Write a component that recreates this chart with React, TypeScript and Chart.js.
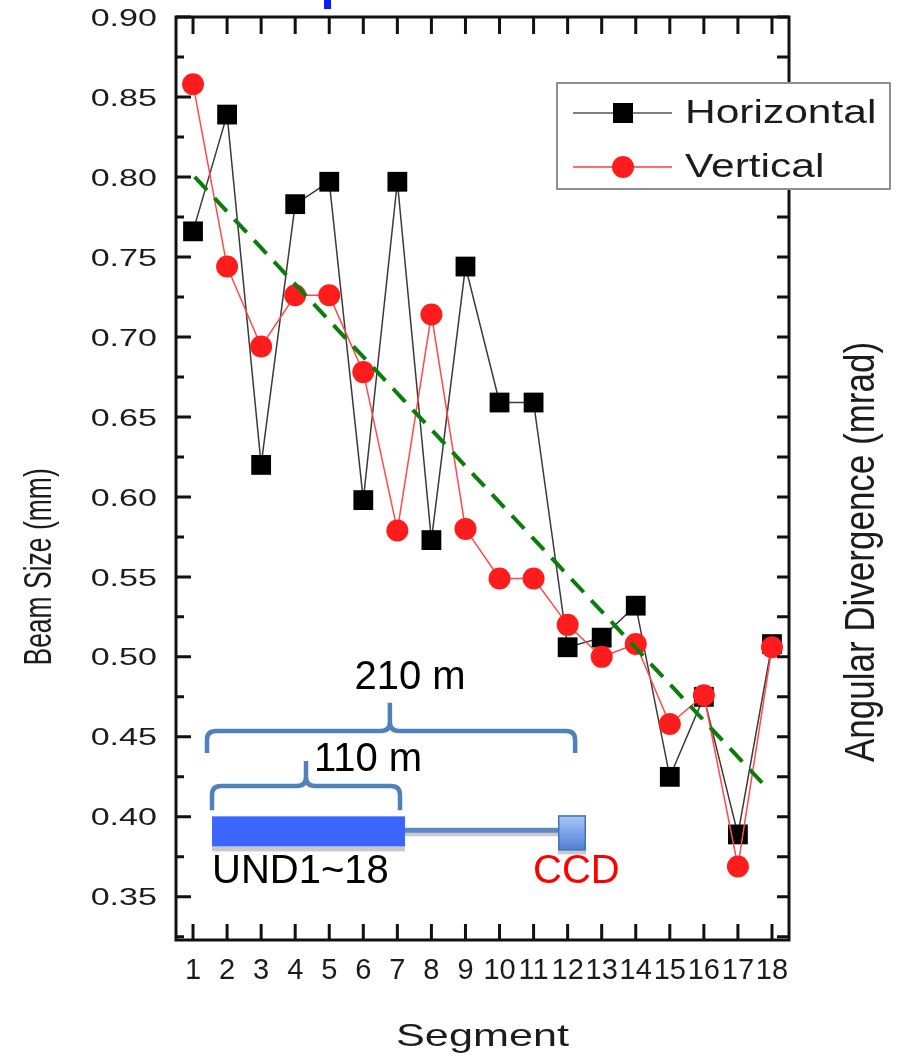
import React, { useEffect, useRef } from "react";
import { Chart, registerables } from "chart.js";

Chart.register(...registerables);

// Segment numbers along the undulator line
const segments = [1, 2, 3, 4, 5, 6, 7, 8, 9, 10, 11, 12, 13, 14, 15, 16, 17, 18];
const xTickLabels = segments.map(String);

// Beam size per segment (mm)
const horizontal = [0.766, 0.839, 0.62, 0.783, 0.797, 0.598, 0.797, 0.573, 0.744, 0.659, 0.659, 0.506, 0.512, 0.532, 0.425, 0.475, 0.389, 0.508];
const vertical = [0.858, 0.744, 0.694, 0.726, 0.726, 0.678, 0.579, 0.714, 0.58, 0.549, 0.549, 0.52, 0.5, 0.508, 0.458, 0.476, 0.369, 0.506];

// Dashed trend guide (segment, mm)
const trendX = [1.05, 17.9];
const trendY = [0.8, 0.417];

// Y axis labels and minor ticks
const yTicks = [0.35, 0.4, 0.45, 0.5, 0.55, 0.6, 0.65, 0.7, 0.75, 0.8, 0.85, 0.9];
const yMinorTicks = [0.325, 0.375, 0.425, 0.475, 0.525, 0.575, 0.625, 0.675, 0.725, 0.775, 0.825, 0.875];

const FONT = '"Liberation Sans", Arial, Helvetica, sans-serif';
const TEXT = "#1c1c1c";

function stretchedText(
  ctx: CanvasRenderingContext2D,
  text: string,
  x: number,
  y: number,
  size: number,
  sx: number,
  sy: number,
  align: CanvasTextAlign,
  color: string,
  rot = 0
) {
  ctx.save();
  ctx.translate(x, y);
  if (rot) ctx.rotate(rot);
  ctx.scale(sx, sy);
  ctx.font = `${size}px ${FONT}`;
  ctx.fillStyle = color;
  ctx.textAlign = align;
  ctx.textBaseline = "middle";
  ctx.fillText(text, 0, 0);
  ctx.restore();
}

function brace(
  ctx: CanvasRenderingContext2D,
  xl: number,
  xr: number,
  xp: number,
  yEnd: number,
  yH: number,
  yPeak: number,
  r: number
) {
  ctx.beginPath();
  ctx.moveTo(xl, yEnd);
  ctx.lineTo(xl, yH + r);
  ctx.quadraticCurveTo(xl, yH, xl + r, yH);
  ctx.lineTo(xp - r, yH);
  ctx.quadraticCurveTo(xp, yH, xp, yH - r);
  ctx.lineTo(xp, yPeak);
  ctx.moveTo(xp, yH - r);
  ctx.quadraticCurveTo(xp, yH, xp + r, yH);
  ctx.lineTo(xr - r, yH);
  ctx.quadraticCurveTo(xr, yH, xr, yH + r);
  ctx.lineTo(xr, yEnd);
  ctx.stroke();
}

// Frame, inward ticks, tick labels, axis titles
const framePlugin = {
  id: "frame",
  afterDatasetsDraw(chart: any) {
    const { ctx, chartArea: ca, scales } = chart;
    const xs = scales.x;
    const ys = scales.y;
    ctx.save();
    ctx.strokeStyle = "#111";
    ctx.lineCap = "butt";

    // ticks
    ctx.lineWidth = 3;
    ctx.beginPath();
    segments.forEach((s) => {
      const px = xs.getPixelForValue(s);
      ctx.moveTo(px, ca.bottom);
      ctx.lineTo(px, ca.bottom - 16);
      ctx.moveTo(px, ca.top);
      ctx.lineTo(px, ca.top + 17);
    });
    yTicks.forEach((v) => {
      const py = ys.getPixelForValue(v);
      ctx.moveTo(ca.left, py);
      ctx.lineTo(ca.left + 15, py);
      ctx.moveTo(ca.right, py);
      ctx.lineTo(ca.right - 12, py);
    });
    yMinorTicks.forEach((v) => {
      if (v < ys.min || v > ys.max) return;
      const py = ys.getPixelForValue(v);
      ctx.moveTo(ca.left, py);
      ctx.lineTo(ca.left + 8, py);
      ctx.moveTo(ca.right, py);
      ctx.lineTo(ca.right - 12, py);
    });
    ctx.stroke();

    // frame
    ctx.lineWidth = 3;
    ctx.strokeRect(ca.left, ca.top, ca.right - ca.left, ca.bottom - ca.top);

    // tick labels
    yTicks.forEach((v) => {
      const py = ys.getPixelForValue(v);
      stretchedText(ctx, v.toFixed(2), ca.left - 19, py + 2, 24, 1.42, 1, "right", TEXT);
    });
    segments.forEach((s, i) => {
      const px = xs.getPixelForValue(s);
      stretchedText(ctx, xTickLabels[i], px, ca.bottom + 31, 29, 1, 1, "center", TEXT);
    });

    // axis titles
    stretchedText(ctx, "Beam Size (mm)", 40, ys.getPixelForValue(0.6) + 70, 26.5, 1, 1.45, "center", TEXT, -Math.PI / 2);
    stretchedText(ctx, "Angular Divergence (mrad)", ca.right + 73, 552, 35, 1, 1.2, "center", TEXT, -Math.PI / 2);
    stretchedText(ctx, "Segment", (ca.left + ca.right) / 2, ca.bottom + 97, 32, 1.35, 1, "center", TEXT);

    // clipped mark above the frame
    ctx.fillStyle = "#0a1cff";
    ctx.fillRect(xs.getPixelForValue(4.95) - 3.5, ca.top - 17, 7, 9);
    ctx.restore();
  },
};

// Beamline sketch: undulator block, drift line, CCD and distance braces
const sketchPlugin = {
  id: "sketch",
  afterDraw(chart: any) {
    const { ctx, scales } = chart;
    const X = (v: number) => scales.x.getPixelForValue(v);
    const Y = (v: number) => scales.y.getPixelForValue(v);
    ctx.save();

    // braces
    ctx.strokeStyle = "#4f81bd";
    ctx.lineWidth = 4.5;
    ctx.lineJoin = "round";
    brace(ctx, X(1.41), X(12.22), X(6.78), Y(0.4399), Y(0.4537), Y(0.4713), 9);
    brace(ctx, X(1.557), X(7.077), X(4.317), Y(0.4041), Y(0.4192), Y(0.4349), 9);

    stretchedText(ctx, "210 m", X(7.371), Y(0.487), 40, 1, 1, "center", "#000");
    stretchedText(ctx, "110 m", X(6.138), Y(0.4355), 40, 1, 1, "center", "#000");

    // drift line with shadow
    const lx0 = X(7.224);
    const lx1 = X(11.717);
    const ly = Y(0.3916);
    ctx.fillStyle = "#c9c9c9";
    ctx.fillRect(lx0, ly + 2, lx1 - lx0, 4);
    ctx.fillStyle = "#5b87c5";
    ctx.fillRect(lx0, ly - 2.5, lx1 - lx0, 5);

    // undulator block with shadow
    const bx0 = X(1.557);
    const bx1 = X(7.224);
    const by0 = Y(0.4003);
    const by1 = Y(0.3815);
    ctx.fillStyle = "#c9c9c9";
    ctx.fillRect(bx0, by1, bx1 - bx0, 5);
    ctx.fillStyle = "#3a66ff";
    ctx.fillRect(bx0, by0, bx1 - bx0, by1 - by0);

    // CCD box
    const cx0 = X(11.717);
    const cx1 = X(12.539);
    const cy0 = Y(0.401);
    const cy1 = Y(0.379);
    ctx.fillStyle = "#c9c9c9";
    ctx.fillRect(cx0, cy1, cx1 - cx0, 4);
    const g = ctx.createLinearGradient(0, cy0, 0, cy1);
    g.addColorStop(0, "#a9c8f7");
    g.addColorStop(1, "#4f7fd2");
    ctx.fillStyle = g;
    ctx.fillRect(cx0, cy0, cx1 - cx0, cy1 - cy0);
    ctx.strokeStyle = "#4273bd";
    ctx.lineWidth = 1.5;
    ctx.strokeRect(cx0 + 0.75, cy0 + 0.75, cx1 - cx0 - 1.5, cy1 - cy0 - 1.5);

    ctx.save();
    ctx.font = `40px ${FONT}`;
    ctx.textBaseline = "middle";
    ctx.textAlign = "left";
    ctx.fillStyle = "#000";
    ctx.fillText("UND1~18", X(1.557), Y(0.3658));
    ctx.fillStyle = "#ff0000";
    ctx.fillText("CCD", X(10.983), Y(0.3658));
    ctx.restore();

    // legend
    const lgX = 557;
    const lgY = 83;
    const lgW = 333;
    const lgH = 106;
    ctx.fillStyle = "#ffffff";
    ctx.fillRect(lgX, lgY, lgW, lgH);
    ctx.strokeStyle = "#8f8f8f";
    ctx.lineWidth = 2;
    ctx.strokeRect(lgX, lgY, lgW, lgH);

    const rows = [
      { label: "Horizontal", y: 113, line: "#555555", fill: "#000000", shape: "rect" },
      { label: "Vertical", y: 167, line: "#ff3b3b", fill: "#ff1c1c", shape: "circle" },
    ];
    rows.forEach((r) => {
      ctx.strokeStyle = r.line;
      ctx.lineWidth = 1.5;
      ctx.beginPath();
      ctx.moveTo(573, r.y);
      ctx.lineTo(672, r.y);
      ctx.stroke();
      ctx.fillStyle = r.fill;
      if (r.shape === "rect") {
        ctx.fillRect(613, r.y - 10, 20, 20);
      } else {
        ctx.beginPath();
        ctx.arc(623, r.y, 11, 0, Math.PI * 2);
        ctx.fill();
      }
      stretchedText(ctx, r.label, 685, r.y + 1, 34, 1.25, 1, "left", TEXT);
    });

    ctx.restore();
  },
};

export default function App() {
  const canvasRef = useRef<HTMLCanvasElement | null>(null);

  useEffect(() => {
    if (!canvasRef.current) return;
    const chart = new Chart(canvasRef.current, {
      type: "line",
      data: {
        datasets: [
          {
            label: "Trend",
            data: trendX.map((x, i) => ({ x, y: trendY[i] })),
            borderColor: "#0b7d0b",
            borderWidth: 4,
            borderDash: [18, 11],
            pointRadius: 0,
            fill: false,
            order: 0,
          },
          {
            label: "Vertical",
            data: segments.map((s, i) => ({ x: s, y: vertical[i] })),
            borderColor: "#ff4a4a",
            borderWidth: 1.5,
            pointStyle: "circle",
            pointRadius: 11,
            pointBackgroundColor: "#ff1c1c",
            pointBorderColor: "#ff1c1c",
            pointBorderWidth: 0,
            fill: false,
            order: 1,
          },
          {
            label: "Horizontal",
            data: segments.map((s, i) => ({ x: s, y: horizontal[i] })),
            borderColor: "#3a3a3a",
            borderWidth: 1.5,
            pointStyle: "rect",
            pointRadius: 14,
            pointBackgroundColor: "#000000",
            pointBorderColor: "#000000",
            pointBorderWidth: 0,
            fill: false,
            order: 2,
          },
        ],
      },
      options: {
        animation: false,
        responsive: true,
        maintainAspectRatio: false,
        layout: { padding: { left: 176, right: 113, top: 17, bottom: 118 } },
        plugins: { legend: { display: false }, tooltip: { enabled: false } },
        elements: { line: { tension: 0 } },
        scales: {
          x: { type: "linear", min: 0.5, max: 18.5, display: false },
          y: { type: "linear", min: 0.323, max: 0.9, display: false },
        },
      },
      plugins: [framePlugin, sketchPlugin],
    });
    return () => chart.destroy();
  }, []);

  return (
    <div style={{ position: "fixed", left: 0, top: 0, width: 902, height: 1058, background: "#fff" }}>
      <canvas ref={canvasRef} />
    </div>
  );
}
